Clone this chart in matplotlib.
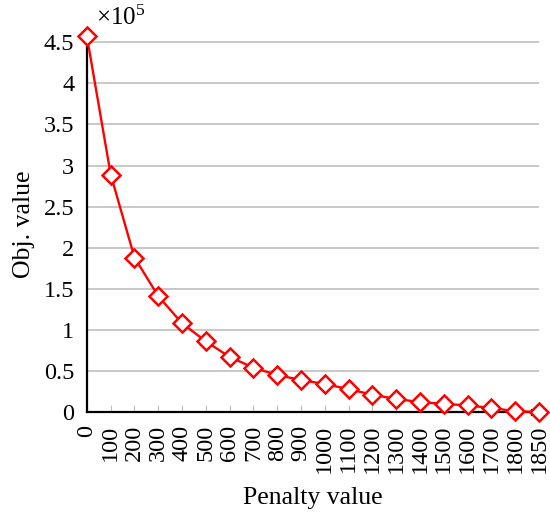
import numpy as np
import matplotlib
matplotlib.use('Agg')
import matplotlib.pyplot as plt

plt.rcParams['font.family'] = ['Liberation Serif', 'DejaVu Serif']
plt.rcParams['mathtext.fontset'] = 'custom'
plt.rcParams['mathtext.rm'] = 'Liberation Serif'

# data (obj. value in units of 1e5)
penalty = ['0', '100', '200', '300', '400', '500', '600', '700', '800', '900',
           '1000', '1100', '1200', '1300', '1400', '1500', '1600', '1700',
           '1800', '1850']
obj_value = [4.57, 2.89, 1.88, 1.41, 1.08, 0.86, 0.67, 0.54, 0.45, 0.39,
             0.34, 0.28, 0.21, 0.16, 0.12, 0.10, 0.08, 0.05, 0.01, 0.0]
y_ticks = [0, 0.5, 1, 1.5, 2, 2.5, 3, 3.5, 4, 4.5]
y_labels = ['0', '0.5', '1', '1.5', '2', '2.5', '3', '3.5', '4', '4.5']

fig = plt.figure(figsize=(5.5, 5.17), dpi=100)
ax = fig.add_axes([0.158, 0.203, 0.822, 0.728])

x = np.arange(len(penalty))
ax.set_xlim(0, len(penalty) - 1)
ax.set_ylim(0, 4.58)

# gridlines
for yv in y_ticks[1:]:
    ax.axhline(yv, color='#bfbfbf', lw=1.2, zorder=1)

ax.plot(x, obj_value, color='red', lw=1.7, marker='D', ms=9,
        mfc='white', mec='red', mew=1.8, zorder=4, clip_on=False)

# axes with arrows
for s in ['top', 'right']:
    ax.spines[s].set_visible(False)
ax.spines['left'].set_linewidth(1.6)
ax.spines['bottom'].set_linewidth(1.6)
ax.plot(0.988, 0, '>k', ms=5, transform=ax.transAxes, clip_on=False, zorder=3)
ax.plot(0, 1, '^k', ms=5, transform=ax.transAxes, clip_on=False, zorder=3)

ax.set_xticks(x)
ax.set_xticklabels(penalty, rotation=90, fontsize=17.5)
ax.set_yticks(y_ticks)
ax.set_yticklabels(y_labels, fontsize=17.5)
ax.tick_params(axis='x', direction='in', length=5, color='#bfbfbf', pad=9)
ax.tick_params(axis='y', length=0, pad=9)

ax.set_xlabel('Penalty value', fontsize=18.5, labelpad=10)
ax.set_ylabel('Obj. value', fontsize=18.5, labelpad=6)
ax.text(0.02, 1.015, r'$\times\mathregular{10^5}$', transform=ax.transAxes,
        fontsize=18, va='bottom', ha='left')

fig.savefig('out.png', dpi=100)
